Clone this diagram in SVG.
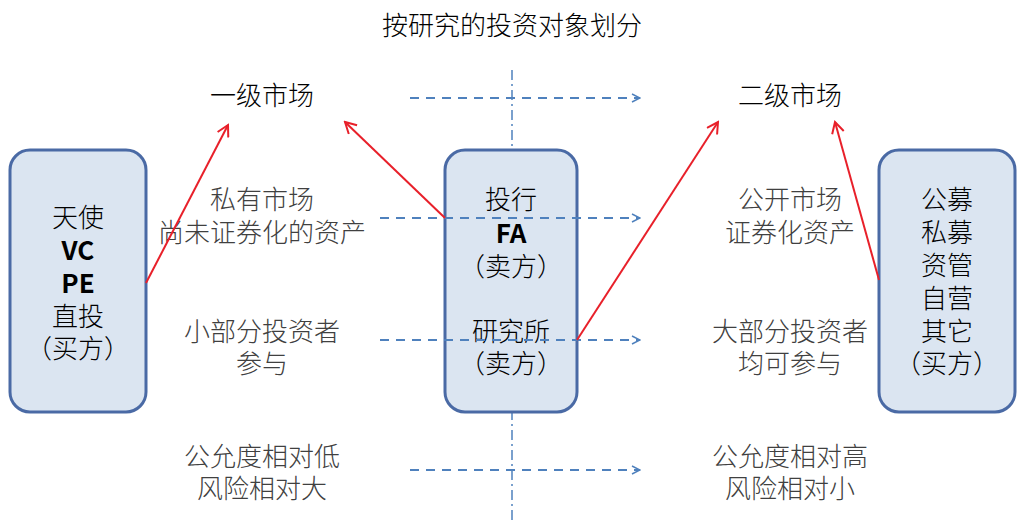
<svg xmlns="http://www.w3.org/2000/svg" width="1024" height="521" viewBox="0 0 1024 521">
<style>
text{font-family:"Noto Sans CJK SC","Liberation Sans",sans-serif;fill:#404040;font-size:26px;text-anchor:middle;font-weight:300}
.h{fill:#000}
.b{font-weight:bold}
.box{fill:#dbe5f1;stroke:#4a6aa5;stroke-width:3}
.d{stroke:#4f81bd;stroke-width:2;stroke-dasharray:9 7;fill:none}
.r{stroke:#e8202a;stroke-width:2;fill:none}
</style>
<defs>
<marker id="ab" markerWidth="10" markerHeight="10" refX="9" refY="5" orient="auto" markerUnits="userSpaceOnUse"><path d="M1,1 L9,5 L1,9" fill="none" stroke="#4f81bd" stroke-width="1.5"/></marker>
<marker id="ar" markerWidth="14" markerHeight="14" refX="12" refY="7" orient="auto" markerUnits="userSpaceOnUse"><path d="M1,1 L12,7 L1,13" fill="none" stroke="#e8202a" stroke-width="2"/></marker>
</defs>
<text x="512" y="35" class="h" font-size="28">按研究的投资对象划分</text>
<line x1="512" y1="70" x2="512" y2="521" stroke="#4f81bd" stroke-width="1.5" stroke-dasharray="10 4 2 4"/>
<g id="left"><rect class="box" x="10" y="150" width="136" height="262" rx="20"/>
<text x="78" y="227" class="h">天使</text><text x="78" y="260" class="h b">VC</text><text x="78" y="293" class="h b">PE</text><text x="78" y="326" class="h">直投</text><text x="78" y="358" class="h">（买方）</text></g>
<g id="mid"><rect class="box" x="445" y="150" width="132" height="262" rx="20"/>
<text x="511" y="209" class="h">投行</text><text x="511" y="243" class="h b">FA</text><text x="511" y="276" class="h">（卖方）</text><text x="511" y="341" class="h">研究所</text><text x="511" y="373" class="h">（卖方）</text></g>
<g id="right"><rect class="box" x="879" y="150" width="136" height="262" rx="20"/>
<text x="947" y="209" class="h">公募</text><text x="947" y="242" class="h">私募</text><text x="947" y="275" class="h">资管</text><text x="947" y="308" class="h">自营</text><text x="947" y="341" class="h">其它</text><text x="947" y="373" class="h">（买方）</text></g>
<g id="labels">
<text x="262" y="105" class="h">一级市场</text><text x="790" y="105" class="h">二级市场</text>
<text x="262" y="209">私有市场</text><text x="262" y="242">尚未证券化的资产</text>
<text x="262" y="341">小部分投资者</text><text x="262" y="373">参与</text>
<text x="262" y="466">公允度相对低</text><text x="262" y="498">风险相对大</text>
<text x="790" y="209">公开市场</text><text x="790" y="242">证券化资产</text>
<text x="790" y="341">大部分投资者</text><text x="790" y="373">均可参与</text>
<text x="790" y="466">公允度相对高</text><text x="790" y="498">风险相对小</text></g>
<g id="connectors">
<line class="d" x1="410" y1="98" x2="640" y2="98" marker-end="url(#ab)"/>
<line class="d" x1="380" y1="218" x2="640" y2="218" marker-end="url(#ab)"/>
<line class="d" x1="380" y1="340" x2="640" y2="340" marker-end="url(#ab)"/>
<line class="d" x1="410" y1="470" x2="640" y2="470" marker-end="url(#ab)"/>
<line class="r" x1="146" y1="283" x2="228" y2="125" marker-end="url(#ar)"/>
<line class="r" x1="445" y1="218" x2="345" y2="122" marker-end="url(#ar)"/>
<line class="r" x1="577" y1="340" x2="718" y2="122" marker-end="url(#ar)"/>
<line class="r" x1="879" y1="280" x2="835" y2="122" marker-end="url(#ar)"/>
</g>
</svg>
